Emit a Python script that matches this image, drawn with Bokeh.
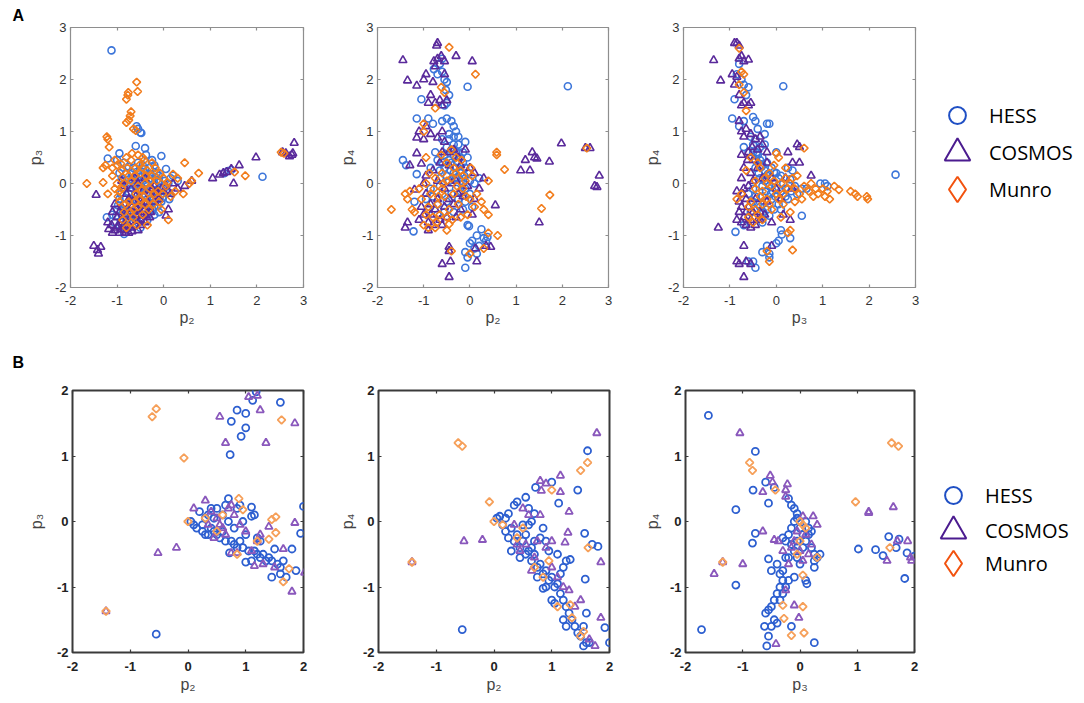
import numpy as np
from bokeh.plotting import figure
from bokeh.models import (Range1d, FixedTicker, LinearAxis, Legend, LegendItem, Label, Title,
                          CustomLabelingPolicy)
from bokeh.layouts import row, column
from bokeh.embed import file_html
from bokeh.resources import INLINE

SERIES = ["HESS", "COSMOS", "Munro"]
TICKS_A = [-2, -1, 0, 1, 2, 3]
TICKS_B = [-2, -1, 0, 1, 2]

# ---------------- Panel A1: p2 vs p3 ----------------
a1_hess = [(-1.12,2.56),(2.12,0.13),(-0.58,1.1),(-0.55,1.05),(-0.5,0.98),(-0.48,0.97),(-0.6,0.72),(-0.4,0.68),
    (-0.05,0.53),(-0.95,0.58),(-1.2,0.48),(-1.0,0.45),(-0.85,0.4),(-0.38,0.55),(-0.2,0.35),(0.05,0.28),(0.2,0.15),
    (1.3,0.2),(1.38,0.24),(1.45,0.26),(-1.22,-0.65),(-0.3,-0.55),(-0.1,-0.55),(-0.05,-0.35),(0.12,-0.3),(-0.85,-0.97),
    (-0.55,-0.75),(-0.9,0.1),(-0.8,0.2),(-0.7,0.0),(-0.6,0.15),(-0.5,0.05),(-0.4,0.2),(-0.3,0.1),(-0.2,0.0),(-0.1,0.05),
    (0.0,-0.1),(-0.85,-0.1),(-0.75,-0.2),(-0.65,-0.3),(-0.55,-0.1),(-0.45,-0.2),(-0.35,-0.05),(-0.25,-0.25),(-0.15,-0.15),
    (-0.05,-0.2),(0.1,0.0),(-0.95,-0.3),(-0.85,-0.4),(-0.7,-0.45),(-0.6,-0.5),(-0.5,-0.4),(-0.4,-0.35),(-0.3,-0.4),
    (-0.2,-0.45),(-1.0,-0.5),(-0.9,-0.6),(-0.8,-0.7),(-0.7,-0.65),(-0.6,-0.7),(-0.45,-0.6),(-1.05,-0.75),(-0.95,-0.8),
    (-0.75,-0.85),(-0.65,0.3),(-0.45,0.35),(-0.3,0.3),(-0.55,0.4),(-0.75,0.32),(-0.15,0.2),(0.15,0.1),(0.3,0.05),
    (-0.35,-0.7),(-0.2,-0.6),(-1.1,-0.6),(-0.5,-0.85),(-0.25,0.45),(-0.62,-0.05),(-0.42,0.1),(-0.28,-0.12),(-0.18,0.12),
    (-0.95,0.2),(-0.88,0.05),(-0.78,-0.05),(-0.68,0.08),(-0.58,0.22),(-0.48,0.12),(-0.38,0.02),(-0.28,0.18),(-0.18,-0.05),
    (-0.08,-0.08),(0.02,0.05),(-0.92,-0.2),(-0.82,-0.28),(-0.72,-0.32),(-0.62,-0.22),(-0.52,-0.28),(-0.42,-0.12),
    (-0.32,-0.2),(-0.22,-0.32),(-0.12,-0.42),(-0.02,-0.28),(0.08,-0.18),(-0.98,-0.42),(-0.88,-0.5),(-0.78,-0.55),
    (-0.68,-0.58),(-0.55,-0.6),(-0.45,-0.48),(-0.35,-0.58),(-0.25,-0.5),(-1.02,-0.62),(-0.92,-0.72),(-0.82,-0.8),
    (-0.7,-0.75),(-0.6,-0.62),(-0.52,-0.12),(-0.7,0.22),(-0.6,0.05),(-0.4,0.28),(-0.1,0.15)]
a1_cosmos = [(-1.5,-1.2),(-1.42,-1.28),(-1.35,-1.22),(-1.4,-1.35),(-1.45,-0.22),(-1.2,-0.75),(-1.18,-0.88),(-1.1,-0.95),
    (-1.05,-0.9),(-0.95,-0.95),(-0.85,-0.9),(-0.75,-0.95),(-0.7,-0.85),(-0.6,-0.8),(-0.5,-0.7),(-0.4,-0.75),(-0.3,-0.65),
    (-0.9,-0.7),(-0.8,-0.6),(-1.0,-0.65),(-0.7,-0.55),(-0.6,-0.6),(-0.85,-0.8),(-0.95,-0.55),(-0.5,-0.55),(-0.4,-0.5),
    (-0.3,-0.45),(-0.2,-0.35),(-0.1,-0.3),(0.0,-0.15),(0.1,-0.5),(0.05,-0.62),(0.15,-0.2),(0.3,-0.1),(0.45,-0.05),
    (0.6,0.05),(-0.8,-0.2),(-0.7,-0.1),(-0.55,0.0),(-0.9,0.05),(-0.4,0.1),(-0.25,-0.1),(-1.05,-0.4),(-0.65,-0.35),
    (1.05,0.1),(1.2,0.17),(1.28,0.2),(1.35,0.22),(1.45,0.28),(1.5,0.0),(1.62,0.35),(1.98,0.5),(2.55,0.6),(2.62,0.58),
    (2.7,0.52),(2.77,0.58),(2.8,0.78),(2.75,0.55),(-0.98,-0.82),(-0.78,-0.75),(-0.55,-0.9),(-0.45,-0.62),
    (-1.12,-0.8),(-1.0,-0.85),(-0.92,-0.88),(-0.82,-0.95),(-0.68,-0.92),(-0.58,-0.72),(-0.48,-0.8),(-0.38,-0.62),
    (-0.28,-0.55),(-0.9,-0.45),(-0.78,-0.48),(-0.68,-0.45),(-0.58,-0.5),(-0.48,-0.42),(-0.35,-0.35),(-0.15,-0.2),
    (-0.05,-0.1),(-1.1,-0.55),(-0.75,-0.3),(-0.6,-0.25),(-0.45,-0.15),(-0.3,-0.2),(-0.2,-0.05),(0.05,-0.05),(0.2,0.0),
    (-0.85,-0.05),(-0.62,0.1),(-0.5,-0.35)]
a1_munro = [(-1.65,0.0),(-1.3,0.02),(-1.2,0.85),(-1.22,0.9),(-1.17,0.7),(-1.3,0.3),(-1.25,0.35),(-1.1,0.15),(-1.1,0.3),
    (-1.05,-0.1),(-1.2,-0.2),(-0.58,1.95),(-0.56,1.77),(-0.76,1.75),(-0.77,1.7),(-0.8,1.62),(-0.8,1.17),(-0.75,1.22),
    (-0.7,1.38),(-0.72,1.3),(-0.65,1.05),(-0.6,1.02),(0.45,0.4),(0.75,0.2),(1.75,0.15),(1.52,0.22),(2.52,0.6),(2.58,0.58),
    (0.1,-0.7),(0.42,-0.2),(0.3,0.1),(0.2,0.18),(0.55,0.0),(0.6,0.05),(-1.0,0.35),(-0.9,0.25),(-0.85,0.0),(-0.75,0.15),
    (-0.7,0.45),(-0.6,0.3),(-0.55,0.55),(-0.5,0.2),(-0.45,0.5),(-0.4,0.0),(-0.35,0.25),(-0.3,-0.1),(-0.25,0.15),
    (-0.2,-0.2),(-0.15,0.05),(-0.1,-0.35),(0.0,0.1),(0.05,-0.05),(-0.95,-0.35),(-0.85,-0.55),(-0.75,-0.35),(-0.7,-0.75),
    (-0.65,-0.5),(-0.6,-0.2),(-0.5,-0.3),(-0.45,-0.6),(-0.4,-0.4),(-0.35,-0.8),(-0.3,-0.3),(-0.8,-0.85),(-0.65,-0.65),
    (-0.55,-0.05),(-0.25,0.4),(-0.45,0.3),(-0.8,0.5),(-1.0,0.0),(-0.95,-0.15),(0.15,-0.25),(-0.05,-0.5),(0.25,-0.15),
    (-1.05,0.45),(-0.92,0.38),(-0.88,0.12),(-0.78,0.3),(-0.68,0.58),(-0.62,0.15),(-0.52,0.35),(-0.42,0.45),(-0.38,0.15),
    (-0.28,0.05),(-0.18,0.3),(-0.08,0.2),(0.08,0.02),(-0.98,-0.25),(-0.9,-0.1),(-0.82,-0.4),(-0.72,-0.55),(-0.62,-0.35),
    (-0.55,-0.45),(-0.42,-0.25),(-0.32,-0.5),(-0.22,-0.4),(-0.12,-0.15),(-0.02,-0.2),(-0.88,-0.7),(-0.58,-0.8),
    (-0.48,-0.12),(-0.7,0.05)]

# ---------------- Panel A2: p2 vs p4 ----------------
a2_hess = [(2.12,1.87),(-0.05,1.86),(-0.78,2.2),(-0.7,2.1),(-0.6,2.15),(-0.65,2.3),(-0.6,2.4),(-0.55,2.0),(-0.52,1.8),
    (-0.5,1.95),(-0.45,1.7),(-0.5,1.55),(-0.55,1.5),(-1.05,1.62),(-0.9,1.25),(-1.15,1.25),(-0.8,1.15),(-0.6,1.2),(-0.5,1.25),
    (-0.4,1.2),(-0.35,1.1),(-0.3,1.0),(-0.45,0.95),(-0.25,0.9),(-0.1,0.8),(-1.45,0.45),(-1.38,0.35),(-1.15,0.18),(-0.5,0.7),
    (-0.35,0.75),(-0.25,0.6),(-0.15,0.4),(-0.05,0.5),(-0.3,0.3),(-0.2,0.2),(-0.4,0.4),(-0.55,0.3),(-0.65,0.1),(-0.45,0.05),
    (-0.3,-0.1),(-0.15,0.0),(0.0,-0.2),(-0.1,-0.35),(-0.25,-0.3),(-0.6,-0.2),(-0.85,-0.1),(-1.2,-0.35),(-1.22,-0.92),
    (-0.9,-0.5),(-0.7,-0.6),(-0.35,-0.55),(-0.05,-0.8),(-0.02,-0.82),(0.0,-1.15),(0.05,-1.1),(0.15,-1.0),(0.25,-0.88),
    (0.1,-1.25),(0.2,-1.2),(0.3,-1.05),(0.38,-1.03),(-0.1,-1.32),(-0.05,-1.42),(-0.1,-1.62),(0.15,-1.35),(0.35,-1.1),
    (-0.35,0.55),(-0.2,-0.15),(0.1,0.0),(0.2,0.1),(-0.75,0.6),(-0.7,0.45),(-0.85,0.3),(-0.6,0.85),(-0.42,0.25),(-0.28,0.12),
    (-0.55,0.55),(-0.45,0.45),(-0.4,0.65),(-0.3,0.6),(-0.2,0.5),(-0.28,0.42),(-0.15,0.6),(-0.1,0.3),(-0.05,0.2),(-0.35,0.2),
    (-0.5,0.15),(-0.6,0.4),(-0.45,0.85),(-0.35,0.9),(-0.25,0.75),(-0.2,0.05),(-0.1,-0.1),(0.0,0.05),(-0.4,-0.2),
    (-0.5,-0.35),(-0.7,-0.4),(-0.8,-0.25),(-0.95,-0.3),(-0.65,-0.05),(-0.55,-0.55),(-0.15,-0.5),(0.05,-0.45),(-0.3,0.1),
    (-0.12,0.15),(-0.65,0.25)]
a2_cosmos = [(-0.7,2.7),(-0.72,2.65),(-1.45,2.37),(-0.78,2.35),(-0.7,2.4),(-0.62,2.45),(-0.55,2.35),(-0.3,2.45),(0.05,2.35),
    (-1.35,1.98),(-1.15,1.88),(-1.0,2.0),(-0.95,2.1),(-0.8,1.95),(-0.75,2.25),(-0.55,2.1),(-0.85,1.7),(-0.9,1.55),(-0.75,1.55),
    (-0.65,1.6),(-0.6,1.5),(-0.5,1.6),(-0.95,1.1),(-1.1,1.0),(-1.15,0.88),(-1.0,0.85),(-0.85,0.95),(-0.7,0.88),(-0.6,1.0),
    (-0.55,0.8),(-1.15,0.58),(-1.05,0.38),(-1.3,0.35),(-0.95,0.15),(-0.8,0.25),(-0.65,0.4),(-0.45,0.6),(-0.35,0.65),
    (-0.25,0.5),(0.0,0.3),(0.1,0.2),(0.3,0.1),(-1.2,-0.12),(-1.35,-0.75),(-1.4,-0.85),(-1.1,-0.7),(-1.0,-0.6),(-0.9,-0.75),
    (-0.8,-0.8),(-0.6,-0.8),(-0.5,-0.65),(-0.3,-0.65),(-0.2,-0.5),(0.1,-0.3),(0.55,-0.42),(-0.45,-1.22),(-0.45,-1.3),
    (-0.6,-1.55),(-0.42,-1.5),(-0.45,-1.8),(0.12,-1.25),(0.15,-1.5),(0.45,-1.22),(0.35,-1.2),(-0.7,-0.3),(-0.55,-0.1),
    (-0.4,0.0),(-0.25,-0.2),(-0.85,-0.4),(1.1,0.25),(1.2,0.45),(1.3,0.25),(1.35,0.6),(1.4,0.5),(1.45,0.48),(1.72,0.42),
    (1.98,0.77),(2.5,0.68),(2.6,0.68),(1.5,-0.75),(2.7,-0.05),(2.75,-0.07),(2.8,0.15),
    (-0.95,-0.2),(-0.85,-0.6),(-0.75,-0.5),(-0.65,-0.7),(-0.55,-0.45),(-0.45,-0.3),(-0.35,-0.4),(-0.3,0.05),(-0.15,-0.25),
    (-0.05,-0.05),(-0.7,0.05),(-0.6,0.6),(-0.45,0.35),(-0.2,0.35),(-0.1,0.65),(-1.0,0.0),(-0.9,-0.9),(-1.05,-0.45),
    (0.05,-0.6),(0.2,-0.1)]
a2_munro = [(-0.45,2.62),(0.12,2.1),(-0.62,1.85),(-0.55,1.75),(-0.75,1.45),(-1.0,1.0),(-1.0,1.15),(-0.95,0.5),(-1.4,-0.2),
    (-1.35,-0.3),(-1.3,-0.15),(-1.25,-0.5),(-1.7,-0.5),(-1.2,-0.55),(-1.0,-0.8),(-0.9,-0.85),(-0.75,-0.85),(-0.5,-0.9),
    (-0.45,-0.78),(-0.4,-1.3),(0.58,0.55),(0.58,0.6),(0.75,0.27),(0.4,0.05),(0.3,-0.5),(0.4,-0.6),(0.3,-1.25),(0.4,-0.95),
    (0.6,-1.0),(0.0,-1.35),(1.55,-0.48),(1.73,-0.22),(2.53,0.68),(-0.95,0.0),(-0.85,-0.2),(-0.75,0.1),(-0.7,-0.4),(-0.6,0.2),
    (-0.55,-0.25),(-0.5,0.4),(-0.45,-0.5),(-0.4,0.1),(-0.35,-0.2),(-0.3,0.5),(-0.25,-0.4),(-0.2,0.25),(-0.15,-0.1),
    (-0.1,0.05),(0.0,-0.3),(0.05,0.15),(-0.9,-0.45),(-0.8,-0.65),(-0.65,-0.6),(-0.35,0.3),(-0.6,-0.1),(-1.05,-0.3),
    (-0.2,-0.65),(-0.05,-0.6),(0.1,-0.45),
    (-0.88,0.2),(-0.78,-0.1),(-0.68,-0.25),(-0.58,0.0),(-0.5,-0.65),(-0.38,-0.7),(-0.28,-0.05),(-0.18,0.45),(-0.08,-0.25),
    (0.02,0.3),(0.15,-0.2),(-0.95,-0.6),(-0.72,-0.75),(-0.4,0.65),(-0.62,0.55),(-0.3,0.2),(-0.15,0.15),(-1.1,-0.1),
    (0.25,-0.35),(-0.5,0.05)]

# ---------------- Panel A3: p3 vs p4 ----------------
a3_hess = [(2.57,0.17),(0.15,1.87),(-0.9,1.62),(-0.95,1.25),(-0.85,2.1),(-0.8,2.3),(-0.75,2.0),(-0.7,1.9),(-0.6,1.85),
    (-0.65,1.7),(-0.8,1.1),(-0.7,1.2),(-0.5,1.28),(-0.45,1.2),(-0.4,1.05),(-0.2,1.15),(-0.15,1.15),(-0.25,0.95),(-0.55,0.9),
    (-0.7,0.7),(-0.6,0.6),(-0.5,0.75),(-0.4,0.55),(-0.3,0.5),(-0.2,0.4),(-0.1,0.3),(0.0,0.2),(0.1,0.15),(0.25,0.3),(0.35,0.25),
    (-0.45,0.3),(-0.35,0.1),(-0.25,0.05),(-0.15,-0.05),(-0.05,0.0),(0.2,-0.1),(0.4,-0.05),(0.55,-0.1),(0.95,0.0),(1.05,0.0),
    (1.1,-0.05),(-0.6,-0.2),(-0.5,-0.35),(-0.4,-0.4),(-0.3,-0.25),(-0.2,-0.5),(-0.1,-0.3),(0.05,-0.4),(0.25,-0.3),
    (0.55,-0.62),(-0.88,-0.93),(-0.7,-0.8),(-0.3,-0.75),(0.1,-0.9),(0.12,-0.98),(0.05,-1.1),(0.0,-1.15),(-0.2,-1.2),
    (-0.15,-1.35),(-0.3,-1.32),(-0.6,-1.5),(-0.45,-1.62),(-0.5,-1.5),(0.3,-1.05),(-0.15,-1.42),(-0.35,0.7),(-0.45,0.85),
    (0.0,0.6),(0.3,0.08),(-0.32,0.32),(-0.18,0.18),(-0.08,-0.15),
    (-0.42,0.6),(-0.35,0.45),(-0.3,0.35),(-0.25,0.25),(-0.2,0.15),(-0.12,0.1),(-0.05,0.22),(0.05,0.1),(0.15,0.0),
    (-0.38,0.2),(-0.3,-0.05),(-0.22,-0.15),(-0.12,-0.2),(-0.02,-0.25),(0.1,-0.15),(0.2,-0.25),(0.32,-0.15),(-0.5,-0.1),
    (-0.45,-0.25),(-0.35,-0.45),(-0.28,-0.55),(-0.15,-0.62),(-0.05,-0.5),(0.1,-0.5),(-0.55,-0.55),(-0.45,0.45),
    (-0.25,0.75),(-0.5,0.6),(0.45,-0.2),(0.65,-0.1)]
a3_cosmos = [(-0.85,2.7),(-0.9,2.7),(-0.8,2.65),(-1.35,2.37),(-0.8,2.4),(-0.75,2.45),(-0.7,2.35),(-0.6,2.38),(-1.2,1.98),
    (-0.95,2.1),(-0.9,1.9),(-0.85,2.05),(-0.8,1.7),(-0.7,1.55),(-0.6,1.5),(-0.55,1.55),(-0.75,1.5),(-0.8,1.2),(-0.75,1.0),
    (-0.7,0.9),(-0.65,1.05),(-0.55,0.95),(-0.45,0.85),(-0.35,0.9),(-0.6,0.6),(-0.75,0.55),(-0.5,0.45),(-0.4,0.3),(-0.7,0.3),
    (-0.75,0.1),(-0.55,0.2),(-0.7,-0.1),(-0.65,-0.3),(-0.6,-0.45),(-0.5,-0.55),(-0.55,-0.7),(-0.7,-0.65),(-0.8,-0.55),
    (-0.85,-0.7),(-0.75,-0.75),(-0.65,-0.8),(-0.45,-0.8),(-0.35,-0.7),(-0.25,-0.6),(-0.1,-0.75),(-0.2,-0.35),(0.1,-0.3),
    (0.3,-0.7),(0.45,0.75),(0.5,0.7),(0.25,0.6),(0.35,0.4),(0.5,0.4),(0.75,0.15),(-1.25,-0.85),(-0.7,-1.2),(-0.85,-1.5),
    (-0.8,-1.55),(-0.65,-1.5),(-0.55,-1.55),(-0.7,-1.8),(-0.1,-1.2),(0.2,0.1),(-0.3,0.1),(-0.2,0.6),
    (-0.65,-0.55),(-0.75,-0.45),(-0.8,-0.35),(-0.72,-0.2),(-0.6,-0.05),(-0.5,0.05),(-0.45,-0.3),(-0.35,-0.55),(-0.4,-0.7),
    (-0.55,-0.85),(-0.62,0.45),(-0.52,0.7),(-0.4,0.65),(-0.3,0.75),(-0.2,0.4),(-0.1,0.1),(0.0,-0.1),(0.15,-0.6),(0.35,-0.1),
    (-0.85,-0.15)]
a3_munro = [(-0.8,2.6),(-0.75,2.15),(-0.7,2.1),(-0.8,1.9),(-0.7,1.75),(-0.65,1.4),(-0.55,0.5),(-0.65,0.25),(-0.75,-0.2),
    (-0.6,-0.65),(-0.5,-0.75),(-0.4,-0.6),(-0.3,-0.4),(-0.2,-0.3),(-0.1,-0.5),(0.0,-0.2),(0.1,0.0),(0.2,0.1),(0.3,0.0),
    (0.4,-0.1),(0.5,-0.2),(0.6,-0.05),(0.7,-0.15),(0.8,-0.25),(0.9,-0.2),(1.0,-0.1),(1.1,-0.15),(1.15,-0.3),(1.25,-0.05),
    (1.35,-0.12),(1.6,-0.15),(1.7,-0.2),(1.75,-0.25),(1.95,-0.25),(1.97,-0.3),(0.0,0.58),(0.05,0.5),(0.6,0.68),(-0.35,0.3),
    (-0.25,0.1),(-0.15,0.2),(-0.45,-0.1),(-0.35,-0.25),(0.15,-0.4),(0.3,-0.55),(0.4,-0.35),(0.25,-0.95),(0.3,-0.9),
    (0.35,-1.28),(-0.2,-1.3),(-0.15,-1.5),(-0.45,0.05),(-0.05,0.05),(0.45,0.15),(-0.85,-0.3),
    (-0.55,-0.35),(-0.45,-0.5),(-0.3,-0.15),(-0.2,0.0),(-0.1,-0.05),(0.05,-0.3),(0.15,-0.2),(0.25,-0.1),(0.35,0.1),
    (0.2,0.3),(-0.05,0.35),(-0.15,-0.4),(0.1,-0.65),(-0.3,-0.7),(-0.6,-0.45),(0.55,-0.3),(0.75,0.0),(0.85,-0.1),
    (1.05,-0.25),(-0.4,0.4)]

# ---------------- Panel B1: p2 vs p3 ----------------
b1_hess = [(1.18,1.98),(1.12,1.85),(1.6,1.82),(0.85,1.7),(1.0,1.65),(0.75,1.53),(1.0,1.43),(0.92,1.3),(0.73,1.02),
    (-0.55,-1.72),(2.0,0.23),(1.95,-0.18),(1.8,-0.42),(1.87,-0.75),(1.7,-0.85),(1.6,-0.8),(1.45,-0.85),(1.5,-0.42),
    (1.1,0.22),(1.15,0.1),(1.1,0.08),(0.7,0.35),(0.72,-0.48),(1.0,-0.62),(1.1,-0.6),(0.05,0.0),(0.1,-0.05),(0.15,-0.1),
    (0.2,0.15),(0.25,-0.05),(0.3,-0.2),(0.35,0.1),(0.4,-0.1),(0.45,-0.15),(0.5,-0.2),(0.5,0.2),(0.55,-0.25),(0.6,0.1),
    (0.65,-0.3),(0.7,0.0),(0.75,-0.3),(0.8,-0.35),(0.85,0.2),(0.85,-0.4),(0.9,0.25),(0.95,-0.4),(1.0,-0.2),(1.05,-0.45),
    (1.15,-0.45),(1.2,-0.5),(1.25,-0.55),(1.3,-0.5),(1.35,-0.6),(1.4,-0.55),(1.45,-0.6),(1.55,-0.65),(1.6,-0.7),(1.65,-0.6),
    (1.2,-0.25),(1.25,-0.3),(0.35,-0.2),(0.45,0.05),(0.6,-0.15),(0.65,0.25),(0.3,0.05),(0.4,0.2),(0.25,-0.15),(0.8,-0.1),
    (0.9,-0.3),(0.95,0.0)]
b1_cosmos = [(1.05,1.9),(1.2,1.92),(1.25,1.7),(1.85,1.5),(0.55,1.6),(0.65,1.2),(1.35,1.2),(-0.52,-0.48),(-0.2,-0.4),
    (-1.42,-1.37),(2.02,-0.78),(1.8,-1.07),(1.85,-0.02),(1.65,-0.42),(1.5,-0.7),(1.15,-0.68),(0.85,-0.48),(0.75,-0.48),
    (1.4,-0.08),(1.3,-0.65),(0.3,0.32),(0.1,0.2),(0.4,0.15),(0.5,0.05),(0.55,-0.05),(0.6,-0.1),(0.75,0.25),(0.8,0.1),
    (0.9,-0.05),(1.0,-0.15),(1.2,-0.3),(0.45,-0.25),(0.65,-0.2),(0.7,0.2),(0.35,-0.05),(1.1,-0.45),(1.25,-0.2)]
b1_munro = [(-0.62,1.6),(-0.55,1.72),(-0.07,0.97),(1.62,1.55),(-1.42,-1.37),(0.88,0.35),(1.45,0.03),(1.52,0.07),
    (1.52,-0.17),(1.4,-0.27),(1.75,-0.72),(1.65,-0.92),(1.2,-0.3),(0.0,0.0),(0.6,0.1),(0.3,0.05),(0.5,-0.15),(0.85,-0.5),
    (0.95,0.18)]

# ---------------- Panel B2: p2 vs p4 ----------------
b2_hess = [(-0.55,-1.65),(1.62,1.08),(1.45,0.48),(1.0,0.6),(0.72,0.52),(1.12,0.28),(0.4,0.3),(0.35,0.25),(0.55,0.37),
    (0.25,0.12),(0.05,0.05),(0.1,0.08),(0.15,-0.05),(0.2,-0.15),(0.25,-0.25),(0.3,-0.1),(0.35,-0.3),(0.4,-0.2),(0.45,-0.4),
    (0.5,-0.3),(0.55,-0.5),(0.6,-0.45),(0.65,-0.6),(0.7,-0.5),(0.75,-0.7),(0.8,-0.65),(0.85,-0.8),(0.9,-0.75),(0.95,-0.9),
    (1.0,-0.85),(1.05,-1.0),(1.1,-0.95),(1.15,-1.1),(1.2,-1.2),(1.25,-1.3),(1.3,-1.4),(1.35,-1.5),(1.4,-1.6),(1.45,-1.7),
    (1.5,-1.75),(1.55,-1.9),(1.6,-1.85),(1.55,-1.6),(1.65,-1.85),(2.0,-1.85),(1.92,-1.62),(1.57,-0.18),(1.7,-0.35),
    (1.8,-0.38),(1.32,-0.58),(1.58,-0.88),(1.6,-1.4),(1.2,-0.7),(1.1,-0.5),(0.9,-1.0),(0.85,-1.02),(1.0,-1.2),(1.05,-1.25),
    (1.2,-1.5),(1.25,-1.6),(0.6,0.2),(0.65,0.0),(0.7,0.12),(0.6,-0.05),(0.85,-0.1),(0.9,-0.3),(0.8,-0.25),(0.5,-0.05),
    (0.45,-0.55),(0.3,-0.45),(0.7,-0.3),(0.75,-0.85),(0.95,-0.45),(1.15,-0.8),(1.25,-0.6),(0.55,-0.2),(0.65,-0.4),(0.2,0.05)]
b2_cosmos = [(1.78,1.35),(1.15,0.7),(0.8,0.62),(0.9,0.58),(0.82,0.47),(1.15,0.45),(1.3,0.15),(-0.52,-0.3),(-0.2,-0.28),
    (0.8,0.1),(0.5,0.2),(0.6,0.1),(1.28,-0.17),(1.23,-0.32),(1.0,-0.3),(1.85,-0.62),(1.85,-1.47),(1.75,-1.9),(1.3,-1.05),
    (1.4,-1.3),(0.7,-0.55),(0.55,-0.35),(0.45,-0.45),(0.4,-0.35),(0.35,-0.05),(0.9,-0.4),(1.0,-0.7),(1.2,-1.0),(1.5,-1.2),
    (1.65,-1.8),(0.75,-0.3),(0.65,-0.75),(1.1,-0.85),(-1.42,-0.62)]
b2_munro = [(-0.62,1.2),(-0.55,1.15),(-0.08,0.3),(1.0,0.48),(1.5,0.78),(1.62,0.9),(1.63,-0.4),(0.0,0.0),(0.15,-0.05),
    (0.4,-0.25),(0.5,-0.1),(-1.42,-0.62),(1.32,-1.27),(1.35,-1.47),(1.1,-1.3),(1.5,-1.75),(1.55,-1.68),(0.85,-0.85),
    (0.7,-0.7),(0.95,-0.6)]

# ---------------- Panel B3: p3 vs p4 ----------------
b3_hess = [(-1.6,1.62),(-1.72,-1.65),(-0.78,1.07),(-0.82,0.48),(-1.12,0.18),(-0.78,-0.18),(-0.83,-0.33),(-1.12,-0.97),
    (-0.6,0.6),(-0.55,0.28),(-0.45,0.52),(0.25,-1.85),(-0.58,-1.9),(1.02,-0.42),(1.32,-0.43),(1.45,-0.52),(1.55,-0.23),
    (1.68,-0.4),(1.73,-0.27),(1.87,-0.48),(1.83,-0.87),(2.0,-0.53),(-0.55,-0.57),(-0.5,-0.75),(-0.4,-0.65),(-0.35,-0.8),
    (-0.3,-0.9),(-0.35,-1.0),(-0.4,-1.1),(-0.45,-1.2),(-0.5,-1.3),(-0.55,-1.35),(-0.6,-1.4),(-0.62,-1.6),(-0.5,-1.6),
    (-0.45,-1.5),(-0.55,-1.75),(-0.4,-1.55),(-0.35,-1.2),(-0.3,-1.1),(-0.25,-1.0),(-0.2,-0.9),(-0.15,-1.6),(-0.2,-0.55),
    (-0.25,-0.3),(-0.2,-0.2),(-0.15,-0.1),(-0.1,0.0),(-0.05,0.05),(0.0,-0.1),(-0.2,0.35),(-0.15,0.25),(-0.1,0.2),(0.05,-0.2),
    (0.1,-0.3),(0.15,-0.2),(0.2,-0.4),(0.25,-0.5),(0.25,-0.6),(0.25,-0.7),(0.1,-0.9),(0.12,-0.95),(0.3,-0.55),(0.35,-0.5),
    (0.05,-0.4),(-0.05,-0.3),(-0.1,-0.45),(-0.15,-0.35),(-0.05,-0.55),(0.0,-0.65),(-0.25,-0.55),(-0.3,-0.25),(0.15,-0.1),
    (0.2,-0.15),(-0.1,-0.85),(-0.3,-0.75),(-0.05,0.12),(0.1,0.0)]
b3_cosmos = [(-1.05,1.35),(-0.52,0.7),(-0.48,0.6),(-0.65,0.45),(-0.65,-0.15),(-1.5,-0.8),(-1.0,-0.65),(-1.35,-0.62),
    (-0.45,-0.28),(-0.38,-0.3),(-0.22,0.57),(-0.25,0.48),(-0.25,0.38),(0.05,0.08),(0.23,0.08),(0.3,-0.05),(1.2,0.13),
    (1.2,0.15),(1.63,0.22),(1.7,-0.3),(1.88,-0.3),(1.93,-0.55),(1.95,-0.6),(1.52,-0.6),(-0.1,-1.28),(-0.02,-1.47),
    (-0.42,-1.87),(-0.25,-1.05),(-0.1,-0.3),(0.0,-0.45),(0.1,-0.2),(-0.15,-0.4),(0.05,-0.6),(-0.2,-0.65),(0.2,-0.35),
    (-0.05,-0.15),(0.15,-0.5),(-0.3,-0.45)]
b3_munro = [(-0.88,0.9),(-0.83,0.78),(-0.43,0.48),(0.97,0.3),(1.6,1.2),(1.72,1.15),(1.57,-0.4),(-1.35,-0.62),(0.05,-0.82),
    (0.05,-1.3),(0.07,-1.7),(-0.28,-1.48),(-0.3,-1.28),(-0.15,-1.74),(0.0,0.0),(0.05,-0.05),(0.1,-0.1),(0.0,-0.3),
    (0.3,-0.55),(-0.05,-0.5)]

# ---------------- styles ----------------
STYLE_A = dict(colors=["#3d76da", "#5a2a9b", "#f27d1d"], outline="#8e8e8e", outline_w=1.2,
               tick="#8e8e8e", label_color="#333333", label_style="normal",
               sizes=(7, 8, 5.5), lw=1.6)
STYLE_B = dict(colors=["#2d5fd0", "#8a58bc", "#f6a05a"], outline="#3a3a3a", outline_w=2,
               tick="#3a3a3a", label_color="#222222", label_style="bold",
               sizes=(7, 7.5, 5.5), lw=1.8)
LEGEND_COLORS = ["#1f4fc4", "#4b1b8f", "#f2520e"]
FONT = "Liberation Sans"
NO_LABELS = CustomLabelingPolicy(code="for (const i of indices) { indices.unset(i) }\nreturn indices")


def style_axis(ax, ticks, st, lab_standoff, axlab_standoff):
    ax.ticker = FixedTicker(ticks=ticks)
    ax.major_label_overrides = {t: str(t) for t in ticks}
    ax.axis_line_color = None
    ax.major_tick_in = 3
    ax.major_tick_out = 0
    ax.major_tick_line_color = st["tick"]
    ax.major_tick_line_width = 1.2
    ax.minor_tick_line_color = None
    ax.major_label_text_font = FONT
    ax.major_label_text_font_size = "13px"
    ax.major_label_text_color = st["label_color"]
    ax.major_label_text_font_style = st["label_style"]
    ax.major_label_standoff = lab_standoff
    ax.axis_label_text_font = FONT
    ax.axis_label_text_font_size = "16px"
    ax.axis_label_text_font_style = "normal"
    ax.axis_label_text_color = "#444444"
    ax.axis_label_standoff = axlab_standoff


def panel(series, xlabel, ylabel, rng, ticks, st, w, h, bl, br, bt, bb, ylab_std, xlab_std, xtick_std):
    p = figure(width=w, height=h, min_border_left=bl, min_border_right=br, min_border_top=bt,
               min_border_bottom=bb, x_range=Range1d(*rng), y_range=Range1d(*rng),
               x_axis_label=xlabel, y_axis_label=ylabel,
               output_backend="svg", toolbar_location=None)
    p.grid.visible = False
    p.outline_line_color = st["outline"]
    p.outline_line_width = st["outline_w"]
    style_axis(p.xaxis[0], ticks, st, xtick_std, xlab_std)
    style_axis(p.yaxis[0], ticks, st, 4, ylab_std)
    for loc in ("above", "right"):
        ax = LinearAxis(ticker=FixedTicker(ticks=ticks), major_label_policy=NO_LABELS,
                        major_label_text_font_size="1px", major_label_standoff=0, axis_label_standoff=0,
                        axis_line_color=None, major_tick_in=3, major_tick_out=0,
                        major_tick_line_color=st["tick"], major_tick_line_width=1.2,
                        minor_tick_line_color=None)
        p.add_layout(ax, loc)
    markers = [("circle", 0.0), ("triangle", 0.0), ("square", np.pi / 4)]
    for pts, col, (mk, ang), sz in zip(series, st["colors"], markers, st["sizes"]):
        xs = [q[0] for q in pts]
        ys = [q[1] for q in pts]
        p.scatter(xs, ys, marker=mk, size=sz, angle=ang, fill_color=None, line_color=col, line_width=st["lw"])
    return p


def legend_fig(w, h, bt, bb, cx, label_x, cys_page, frame_bottom_page):
    f = figure(width=w, height=h, min_border_left=0, min_border_right=0, min_border_top=bt,
               min_border_bottom=bb, x_range=Range1d(0, 1), y_range=Range1d(0, 1),
               x_axis_type=None, y_axis_type=None, output_backend="svg", toolbar_location=None)
    f.grid.visible = False
    f.outline_line_color = None
    specs = [("circle", 17), ("triangle", 30), ("diamond", 32)]
    gw = int(round(2 * (label_x - cx)))
    for name, (mk, sz), col, cy in zip(SERIES, specs, LEGEND_COLORS, cys_page):
        r = f.scatter(x=[np.nan], y=[np.nan], marker=mk, size=sz, fill_color=None, line_color=col, line_width=2)
        gh = sz / 0.4
        lx = cx - gw / 2
        ly = (frame_bottom_page - cy) - gh / 2
        leg = Legend(items=[LegendItem(label=name, renderers=[r])], location=(lx, ly),
                     glyph_width=gw, glyph_height=int(round(gh)),
                     label_standoff=0, padding=0, margin=0, spacing=0,
                     border_line_color=None, background_fill_alpha=0,
                     label_text_font="Open Sans", label_text_font_size="20px", label_text_color="black")
        f.add_layout(leg)
    return f


def tag_fig(w, h, text, x, y):
    f = figure(width=w, height=h, min_border=0, x_range=Range1d(0, 1), y_range=Range1d(0, 1),
               x_axis_type=None, y_axis_type=None, output_backend="svg", toolbar_location=None)
    f.grid.visible = False
    f.outline_line_color = None
    f.add_layout(Label(x=x, y=y, x_units="screen", y_units="screen", text=text, text_font=FONT,
                       text_font_style="bold", text_font_size="16px", text_baseline="bottom",
                       text_color="black"))
    return f


# geometry (canvas px, the page has no margin)
W1, W2, W3, WL = 335, 305, 280, 160
HA, HTB, HB = 345, 27, 328
A_TOP, A_BOT = 27, 58
B_TOP, B_BOT = 18, 48
WT = W1 + W2 + W3 + WL

pA1 = panel([a1_hess, a1_cosmos, a1_munro], "p₂", "p₃", (-2, 3), TICKS_A, STYLE_A, W1, HA, 70, 32, A_TOP, A_BOT, 8, 1, 8)
pA1.add_layout(Title(text="A", align="left", offset=-58, standoff=0, vertical_align="bottom",
                     text_font=FONT, text_font_style="bold", text_font_size="16px", text_color="black"), "above")
pA2 = panel([a2_hess, a2_cosmos, a2_munro], "p₂", "p₄", (-2, 3), TICKS_A, STYLE_A, W2, HA, 41, 32, A_TOP, A_BOT, 3, 1, 8)
pA3 = panel([a3_hess, a3_cosmos, a3_munro], "p₃", "p₄", (-2, 3), TICKS_A, STYLE_A, W3, HA, 42, 5, A_TOP, A_BOT, 4, 1, 8)
legA = legend_fig(WL, HA, A_TOP, A_BOT, 37, 69, [115, 152, 189], HA - A_BOT)

tagB = tag_fig(WT, HTB, "B", 12, 2)
pB1 = panel([b1_hess, b1_cosmos, b1_munro], "p₂", "p₃", (-2, 2), TICKS_B, STYLE_B, W1, HB, 72, 32, B_TOP, B_BOT, 9, 2, 9)
pB2 = panel([b2_hess, b2_cosmos, b2_munro], "p₂", "p₄", (-2, 2), TICKS_B, STYLE_B, W2, HB, 42, 31, B_TOP, B_BOT, 4, 2, 9)
pB3 = panel([b3_hess, b3_cosmos, b3_munro], "p₃", "p₄", (-2, 2), TICKS_B, STYLE_B, W3, HB, 42, 6, B_TOP, B_BOT, 6, 2, 9)
legB = legend_fig(WL, HB, B_TOP, B_BOT, 33, 65, [495, 530, 563], HA + HTB + HB - B_BOT)

layout = column(row(pA1, pA2, pA3, legA, spacing=0), tagB, row(pB1, pB2, pB3, legB, spacing=0), spacing=0)
open("out.html", "w").write(file_html(layout, INLINE))
